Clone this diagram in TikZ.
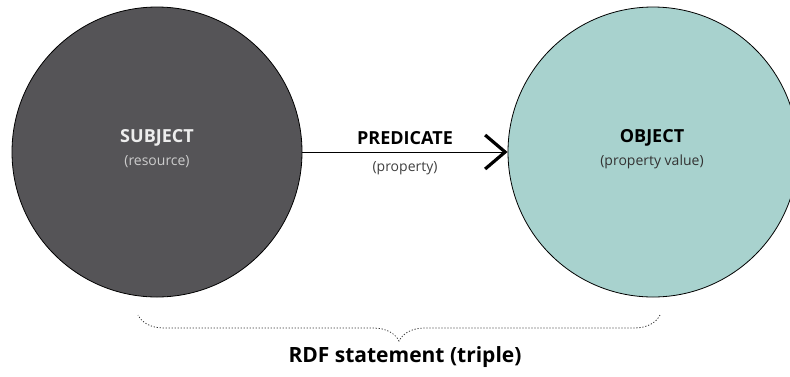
\documentclass[tikz,border=0pt]{standalone}
\usepackage{fontspec}
\setmainfont{Open Sans}
\usetikzlibrary{positioning,arrows.meta,decorations.pathreplacing}
\definecolor{subjgray}{RGB}{85,84,87}
\definecolor{objteal}{RGB}{168,210,206}

\begin{document}
\begin{tikzpicture}[x=1pt, y=-1pt,
  res/.style={shape=circle, draw=black, line width=0.8pt, minimum size=290pt, inner sep=0pt},
  title/.style={font=\fontsize{18}{20}\selectfont\bfseries},
  sub/.style={font=\fontsize{14}{16}\selectfont}]
\useasboundingbox (0,0) rectangle (790,376);
\node[res, fill=subjgray] (S) at (157,152) {};
\node[res, fill=objteal] (O) at (653,152) {};
\node[title, text=white!93!black] (Stitle) at (157,138) {SUBJECT};
\node[sub, text=white!80!black] (Ssub) at (157,162) {(resource)};
\node[title, text=black] (Otitle) at (652,138) {OBJECT};
\node[sub, text=black!80] (Osub) at (652,162) {(property value)};
\node[title, text=black] (P) at (405,138) {PREDICATE};
\node[sub, text=black!75] (Psub) at (405,168) {(property)};
\draw[line width=1pt, -{Straight Barb[length=20pt,width=34pt,line width=3.2pt]}] (S) -- (O);
% brace under the triple
\coordinate (bl) at (138,315);
\coordinate (br) at (660,315);
\draw[black!80, line width=0.8pt, dash pattern=on 1.2pt off 1.8pt, decorate, decoration={brace, amplitude=26pt}] (br) -- (bl);
\node[font=\fontsize{21}{23}\selectfont\bfseries] (rdf) at (405,357) {RDF statement (triple)};
\end{tikzpicture}
\end{document}
